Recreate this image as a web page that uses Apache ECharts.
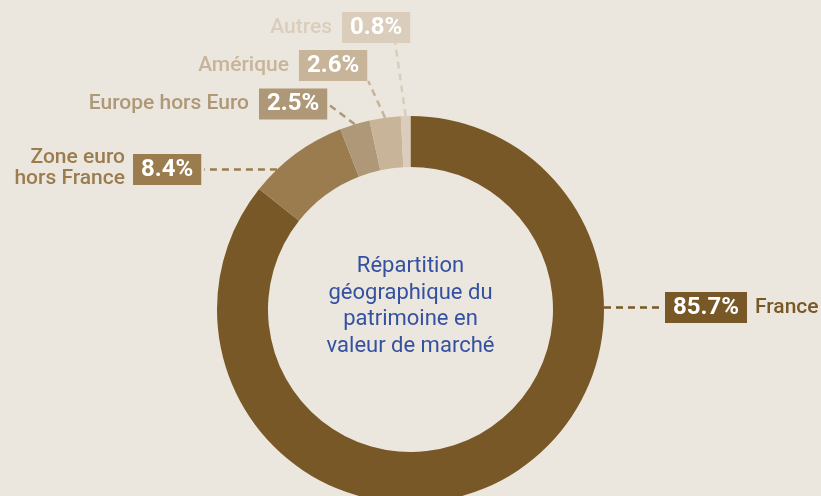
<!DOCTYPE html>
<html>
<head>
<meta charset="utf-8">
<style>
  html, body { margin: 0; padding: 0; background: #ECE7DE; }
  #chart { width: 821px; height: 496px; }
</style>
<script src="https://cdn.jsdelivr.net/npm/echarts@6/dist/echarts.min.js"></script>
</head>
<body>
<div id="chart"></div>
<script>
  const regions = ["France", "Zone euro\nhors France", "Europe hors Euro", "Amérique", "Autres"];
  const shares = [85.7, 8.4, 2.5, 2.6, 0.8];
  const colors = ["#785826", "#9A7C4E", "#AE9877", "#C7B499", "#DACDBB"];
  const centerText = "Répartition\ngéographique du\npatrimoine en\nvaleur de marché";

  const center = [410.5, 309.5];
  const radius = [142.5, 193.5];
  const font = "Roboto";

  // value boxes: left edge, vertical middle
  const boxPos = [[665, 307.5], [133, 169.5], [259, 104], [299, 65.5], [342, 27.5]];
  // region names: anchor x, vertical middle, align
  const namePos = [[755, 307.5, "left"], [125, 168, "right"], [249, 104, "right"], [289, 65.5, "right"], [332, 27.5, "right"]];

  const total = shares.reduce((a, b) => a + b, 0);

  // mid angle of slice i, clockwise from 12 o'clock, radians
  const midAngle = (i) => {
    let before = 0;
    for (let k = 0; k < i; k++) before += shares[k];
    return ((before + shares[i] / 2) / total) * 2 * Math.PI;
  };
  const edgePoint = (a) => [center[0] + radius[1] * Math.sin(a), center[1] - radius[1] * Math.cos(a)];
  const edgeAtY = (y, side) => {
    const dx = Math.sqrt(radius[1] * radius[1] - (y - center[1]) * (y - center[1]));
    return [center[0] + side * dx, y];
  };

  const myChart = echarts.init(document.getElementById("chart"));

  const option = {
    backgroundColor: "#ECE7DE",
    animation: false,
    title: {
      text: centerText,
      left: "center",
      top: 253,
      padding: 0,
      textStyle: {
        color: "#3450A0",
        fontFamily: font,
        fontWeight: "normal",
        fontSize: 22,
        lineHeight: 26.7,
      },
    },
    series: [
      {
        // names only, invisible ring
        type: "pie",
        center: center,
        radius: radius,
        startAngle: 90,
        silent: true,
        avoidLabelOverlap: false,
        z: 1,
        emphasis: { disabled: true },
        labelLine: { show: false },
        label: {
          show: true,
          position: "outside",
          formatter: "{b}",
          fontFamily: font,
          fontSize: 21,
          fontWeight: 500,
          lineHeight: 21,
        },
        labelLayout: (p) => {
          const pos = namePos[p.dataIndex];
          return { x: pos[0], y: pos[1], align: pos[2], verticalAlign: "middle" };
        },
        data: regions.map((name, i) => ({
          name: name,
          value: shares[i],
          itemStyle: { color: "rgba(0,0,0,0)" },
          label: { color: colors[i], align: namePos[i][2] },
        })),
      },
      {
        type: "pie",
        center: center,
        radius: radius,
        startAngle: 90,
        silent: true,
        avoidLabelOverlap: false,
        z: 2,
        emphasis: { disabled: true },
        label: {
          show: true,
          position: "outside",
          formatter: (p) => p.value.toFixed(1) + "%",
          color: "#fff",
          fontFamily: font,
          fontSize: 24,
          fontWeight: "bold",
          lineHeight: 25,
          padding: [3, 8, 3, 8],
        },
        labelLine: {
          show: true,
          lineStyle: { width: 2.5, type: [7, 5] },
        },
        labelLayout: (p) => {
          const i = p.dataIndex;
          const pos = boxPos[i];
          const w = p.labelRect.width;
          const h = p.labelRect.height;
          const left = pos[0];
          const top = pos[1] - h / 2;
          let a, b;
          if (i === 0) {
            a = edgeAtY(pos[1], 1);
            b = [left - 5, pos[1]];
          } else if (i === 1) {
            a = edgeAtY(pos[1], -1);
            b = [left + w + 3, pos[1]];
          } else if (i === 2) {
            a = edgePoint(midAngle(i));
            b = [left + w + 2, pos[1] + 1];
          } else if (i === 3) {
            a = edgePoint(midAngle(i));
            b = [left + w + 1, top + h];
          } else {
            a = edgePoint(midAngle(i));
            b = [left + w - 15, top + h];
          }
          return {
            x: left,
            y: pos[1],
            align: "left",
            verticalAlign: "middle",
            labelLinePoints: [a, [(a[0] + b[0]) / 2, (a[1] + b[1]) / 2], b],
          };
        },
        data: regions.map((name, i) => ({
          name: name,
          value: shares[i],
          itemStyle: { color: colors[i] },
          label: { backgroundColor: colors[i] },
          labelLine: { lineStyle: { color: colors[i] } },
        })),
      },
    ],
  };

  option && myChart.setOption(option);

  window.addEventListener("resize", () => {
    myChart.resize();
  });
</script>
</body>
</html>
